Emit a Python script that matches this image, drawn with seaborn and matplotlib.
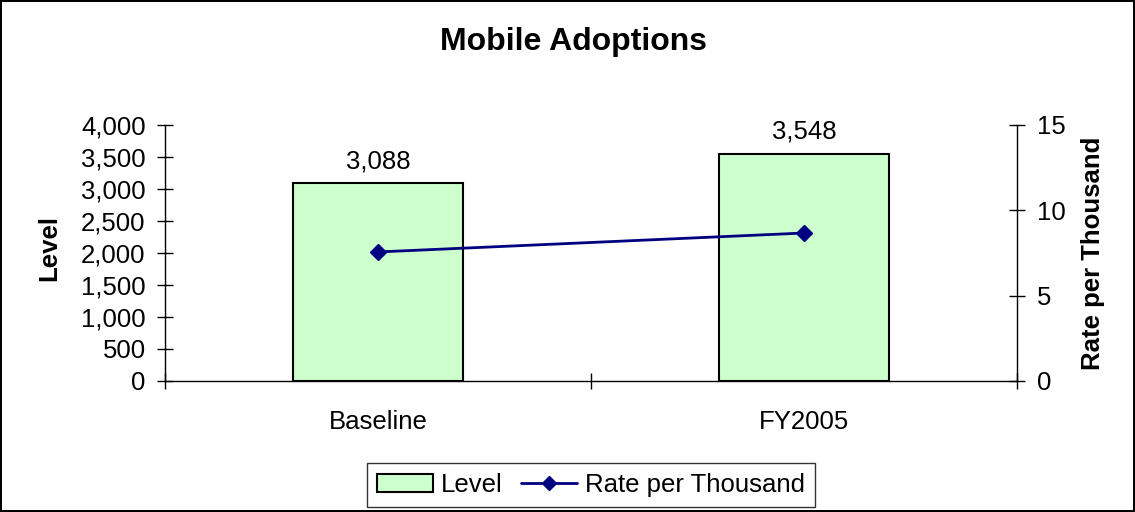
import matplotlib
matplotlib.use('Agg')
import matplotlib.pyplot as plt
from matplotlib.patches import Patch
from matplotlib.lines import Line2D
from matplotlib.ticker import FuncFormatter
import pandas as pd
import seaborn as sns

categories = ['Baseline', 'FY2005']
level = [3088, 3548]
rate = [7.56, 8.67]

sns.set_theme(style='white')
plt.rcParams['font.family'] = ['Liberation Sans', 'DejaVu Sans']
for key in ('text.color', 'axes.labelcolor', 'xtick.color', 'ytick.color'):
    plt.rcParams[key] = 'black'

FS = 18.5

df = pd.DataFrame({'period': categories, 'level': level, 'rate': rate})

fig = plt.figure(figsize=(11.35, 5.12), dpi=100, linewidth=1.5, edgecolor='black')
ax = fig.add_axes([0.1454, 0.2559, 0.7507, 0.5])

sns.barplot(data=df, x='period', y='level', ax=ax, color='#CCFFCC',
            edgecolor='black', linewidth=1.5, width=0.4, saturation=1)
for p, v in zip(ax.patches, level):
    ax.annotate(f'{v:,}', (p.get_x() + p.get_width() / 2, v),
                xytext=(0, 11), textcoords='offset points',
                ha='center', va='baseline', fontsize=FS)

ax.set_ylim(0, 4000)
ax.set_yticks(range(0, 4001, 500))
ax.yaxis.set_major_formatter(FuncFormatter(lambda v, _: f'{int(v):,}'))
ax.set_xlim(-0.5, 1.5)
ax.set_xticks([0, 1])
ax.set_xticklabels(categories)
ax.set_xticks([-0.5, 0.5, 1.5], minor=True)
ax.tick_params(axis='x', which='major', length=0, pad=21, labelsize=FS)
ax.tick_params(axis='x', which='minor', length=12, direction='inout',
               bottom=True, width=1)
ax.tick_params(axis='y', length=12, direction='inout', left=True,
               labelsize=FS, width=1, pad=8)
ax.set_xlabel('')
ax.set_ylabel('Level', fontsize=FS, fontweight='bold', va='center')
ax.yaxis.set_label_coords(-0.136, 0.52)

ax2 = ax.twinx()
ax2.plot(range(len(categories)), df['rate'], color='#000080', marker='D',
         markersize=8, linewidth=2)
ax2.set_ylim(0, 15)
ax2.set_yticks([0, 5, 10, 15])
ax2.tick_params(axis='y', length=12, direction='inout', right=True,
                labelsize=FS, width=1, pad=8)
ax2.set_ylabel('Rate per Thousand', fontsize=FS, fontweight='bold', va='center')
ax2.yaxis.set_label_coords(1.089, 0.5)
ax2.set_xlim(-0.5, 1.5)

for a in (ax, ax2):
    a.spines['top'].set_visible(False)
    for s in ('left', 'right', 'bottom'):
        a.spines[s].set_color('black')
        a.spines[s].set_linewidth(1)
ax.spines['right'].set_visible(False)
ax2.spines['left'].set_visible(False)
ax2.spines['bottom'].set_visible(False)

fig.text(0.505, 0.918, 'Mobile Adoptions', ha='center', va='center',
         fontsize=23, fontweight='bold')

handles = [Patch(facecolor='#CCFFCC', edgecolor='black', linewidth=1.5),
           Line2D([], [], color='#000080', marker='D', markersize=7, linewidth=2)]
leg = fig.legend(handles, ['Level', 'Rate per Thousand'], loc='center',
                 bbox_to_anchor=(0.5207, 0.0527), ncol=2, fontsize=FS,
                 frameon=True, fancybox=False, edgecolor='black',
                 handlelength=2.2, handletextpad=0.3, columnspacing=0.7,
                 borderpad=0.4, borderaxespad=0)
leg.get_frame().set_linewidth(1)

fig.savefig('out.png', dpi=100, edgecolor=fig.get_edgecolor())
